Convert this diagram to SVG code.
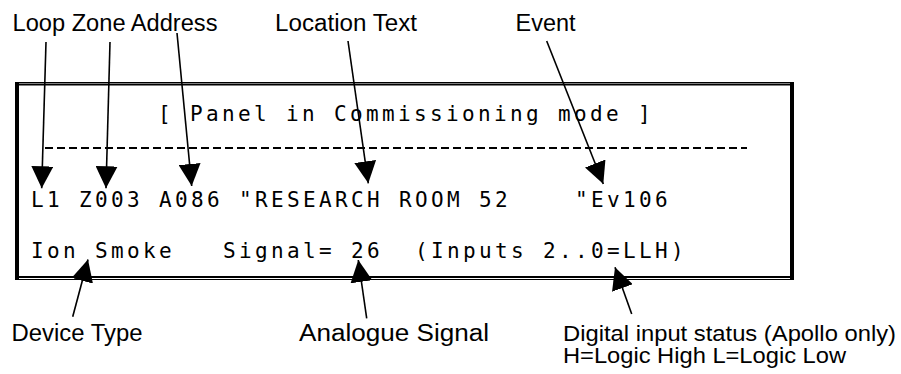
<svg xmlns="http://www.w3.org/2000/svg" width="901" height="374" viewBox="0 0 901 374">
<style>
.lbl{font-family:"Liberation Sans",Arial,sans-serif;font-size:23px;fill:#000}
.lbl2{font-family:"Liberation Sans",Arial,sans-serif;font-size:21.5px;fill:#000}
.mono{font-family:"DejaVu Sans Mono","Liberation Mono",monospace;font-size:21px;letter-spacing:3.36px;fill:#000}
.frm{stroke:#000;fill:none}
.arr{stroke:#000;stroke-width:1.6;fill:none;marker-end:url(#ah)}
</style>
<defs>
<marker id="ah" markerUnits="userSpaceOnUse" markerWidth="22" markerHeight="22" viewBox="0 0 20 20" refX="20" refY="10" orient="auto">
<path d="M0,0 L20,10 L0,20 Z" fill="#000"/>
</marker>
</defs>
<rect width="901" height="374" fill="#fff"/>
<g id="frame">
<line class="frm" x1="15" y1="82.5" x2="794" y2="82.5" stroke-width="1"/>
<line class="frm" x1="15" y1="84.5" x2="794" y2="84.5" stroke-width="2"/>
<line class="frm" x1="15" y1="277" x2="794" y2="277" stroke-width="2"/>
<line class="frm" x1="15" y1="279.5" x2="794" y2="279.5" stroke-width="1"/>
<line class="frm" x1="17" y1="82" x2="17" y2="280" stroke-width="4"/>
<line class="frm" x1="792" y1="82" x2="792" y2="280" stroke-width="4"/>
</g>
<g id="screen">
<text class="mono" x="158" y="121" xml:space="preserve">[ Panel in Commissioning mode ]</text>
<line x1="45" y1="148" x2="747" y2="148" stroke="#000" stroke-width="2.2" stroke-dasharray="8,4"/>
<text class="mono" x="31" y="207" xml:space="preserve">L1 Z003 A086 "RESEARCH ROOM 52    "Ev106</text>
<text class="mono" x="31" y="258" xml:space="preserve">Ion Smoke   Signal= 26  (Inputs 2..0=LLH)</text>
</g>
<g id="labels">
<text id="loop-zone-address" class="lbl" x="12.5" y="31" textLength="205" lengthAdjust="spacingAndGlyphs">Loop Zone Address</text>
<text id="location-text" class="lbl" x="275" y="31" textLength="142" lengthAdjust="spacingAndGlyphs">Location Text</text>
<text id="event" class="lbl" x="515.5" y="30.5" textLength="60" lengthAdjust="spacingAndGlyphs">Event</text>
<text id="device-type" class="lbl" x="11.5" y="341" textLength="131" lengthAdjust="spacingAndGlyphs">Device Type</text>
<text id="analogue-signal" class="lbl" x="299" y="341" textLength="190" lengthAdjust="spacingAndGlyphs">Analogue Signal</text>
<g id="digital-input">
<text class="lbl2" x="563" y="340.5" textLength="333" lengthAdjust="spacingAndGlyphs">Digital input status (Apollo only)</text>
<text class="lbl2" x="563" y="362.5" textLength="283" lengthAdjust="spacingAndGlyphs">H=Logic High L=Logic Low</text>
</g>
</g>
<g id="connectors">
<line class="arr" x1="46" y1="42" x2="41.7" y2="188.3"/>
<line class="arr" x1="110" y1="42" x2="106" y2="188.3"/>
<line class="arr" x1="177" y1="33" x2="191.7" y2="186"/>
<line class="arr" x1="348" y1="41" x2="368.3" y2="183.3"/>
<line class="arr" x1="546.7" y1="41" x2="603.3" y2="184"/>
<line class="arr" x1="72.7" y1="316.7" x2="88" y2="259.5"/>
<line class="arr" x1="366.7" y1="318.3" x2="358.3" y2="260"/>
<line class="arr" x1="631.7" y1="314" x2="615" y2="267.3"/>
</g>
</svg>
